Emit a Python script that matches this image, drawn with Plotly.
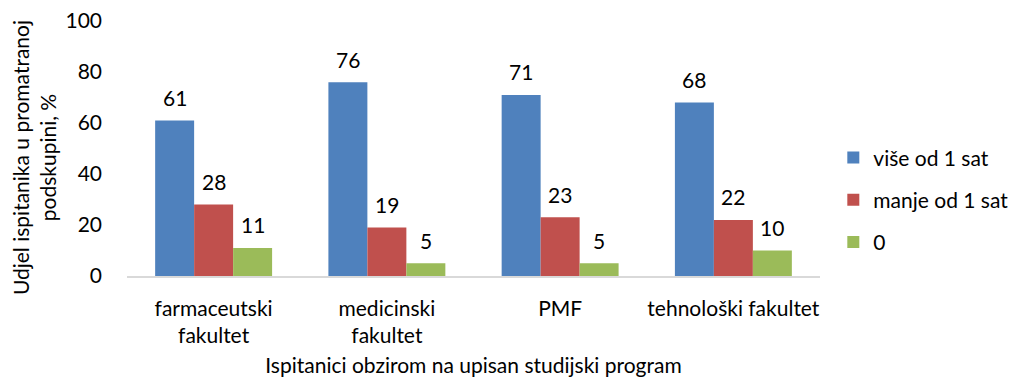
import plotly.graph_objects as go

# Study programmes (x categories) and share of respondents per subgroup, %
categories = ["farmaceutski<br>fakultet", "medicinski<br>fakultet", "PMF", "tehnološki fakultet"]
vise_od_1_sat = [61, 76, 71, 68]
manje_od_1_sat = [28, 19, 23, 22]
nula = [11, 5, 5, 10]

series_names = ["više od 1 sat", "manje od 1 sat", "0"]
series_values = [vise_od_1_sat, manje_od_1_sat, nula]
colors = ["#4F81BD", "#C0504D", "#9BBB59"]

y_ticks = [0, 20, 40, 60, 80, 100]

FONT = "Lato, Carlito, Calibri, sans-serif"
FS = 21

W, H = 1015, 377
M = dict(l=127, r=195, t=21, b=101)
BARGAP = 0.325

fig = go.Figure()
for i, (name, vals, col) in enumerate(zip(series_names, series_values, colors)):
    fig.add_trace(go.Bar(
        x=categories,
        y=vals,
        name=name,
        legendgroup=f"g{i}",
        marker=dict(color=col, line=dict(width=0)),
    ))

# value labels above each bar, shifted sideways to the bar's slot in the group
plot_w = W - M["l"] - M["r"]
bar_w = plot_w / len(categories) * (1 - BARGAP) / len(series_names)
for i, vals in enumerate(series_values):
    dx = (i - (len(series_names) - 1) / 2) * bar_w
    for cat, v in zip(categories, vals):
        fig.add_annotation(
            x=cat, y=v, text=str(v), showarrow=False,
            xshift=dx, yshift=23, yanchor="middle", xanchor="center",
            font=dict(size=FS, color="#000000", family=FONT),
        )

# rotated two-line y-axis title
fig.add_annotation(
    text="Udjel ispitanika u promatranoj<br>podskupini, %",
    xref="paper", yref="paper", x=-0.134, y=0.463,
    xanchor="center", yanchor="middle", textangle=-90, showarrow=False,
    font=dict(size=FS, color="#000000", family=FONT),
)

fig.update_layout(
    width=W,
    height=H,
    margin=M,
    paper_bgcolor="white",
    plot_bgcolor="white",
    barmode="group",
    bargap=BARGAP,
    bargroupgap=0,
    font=dict(family=FONT, size=FS, color="#000000"),
    showlegend=True,
    legend=dict(
        xref="container", yref="container",
        x=0.821, y=0.47, xanchor="left", yanchor="middle",
        traceorder="grouped",
        tracegroupgap=12,
        bgcolor="rgba(0,0,0,0)",
        font=dict(size=FS, family=FONT),
        itemwidth=30,
    ),
    xaxis=dict(
        automargin=False,
        showline=True, linecolor="#D9D9D9", linewidth=1.5,
        ticks="", showgrid=False,
        tickfont=dict(size=FS),
        ticklabelstandoff=13,
        title=dict(text="Ispitanici obzirom na upisan studijski program",
                   font=dict(size=FS), standoff=20),
    ),
    yaxis=dict(
        automargin=False,
        range=[0, 100],
        tickvals=y_ticks,
        showline=False, showgrid=False, zeroline=False,
        ticks="", ticklen=0,
        tickfont=dict(size=FS),
        ticklabelstandoff=24,
    ),
)

fig.write_html("out.html")
